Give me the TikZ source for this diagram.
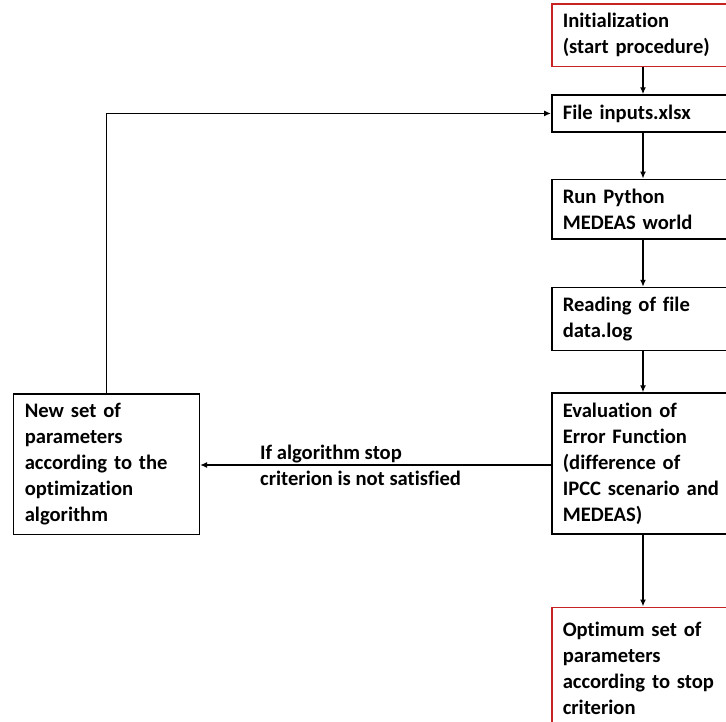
\documentclass[tikz,border=0pt]{standalone}
\usepackage{fontspec}
\setmainfont{Carlito}[Ligatures=NoCommon]
\usetikzlibrary{positioning,arrows.meta}
\definecolor{redline}{RGB}{200,35,35}

\begin{document}
\begin{tikzpicture}[x=1pt,y=-1pt]
\useasboundingbox (0,0) rectangle (726,722);
\tikzset{
  stepbox/.style={rectangle, draw=black, line width=1.6pt, align=left,
    text width=175pt, inner xsep=11pt, inner ysep=9.5pt,
    font=\fontsize{20.6}{26}\selectfont\bfseries},
  redbox/.style={stepbox, draw=redline},
  flow/.style={-{Latex[length=7pt,width=6pt]}, line width=1.6pt}
}

% Initialization
\node[redbox, anchor=north west] (init) at (551,3) {
  Initialization\\(start procedure)
};

% File inputs
\node[stepbox, below=27pt of init.south west, anchor=north west] (inputs) {File inputs.xlsx};

% Run Python
\node[stepbox, below=46pt of inputs.south west, anchor=north west] (python) {Run Python\\MEDEAS world};

% Reading of data
\node[stepbox, below=47pt of python.south west, anchor=north west] (reading) {Reading of file\\data.log};

% Error evaluation
\node[stepbox, below=41pt of reading.south west, anchor=north west] (error) {
  Evaluation of\\Error Function\\(difference of\\IPCC scenario and\\MEDEAS)
};

% Optimum (runs past the lower edge)
\node[redbox, below=72pt of error.south west, anchor=north west,
      minimum height=122pt] (optimum) {
  Optimum set of\\parameters\\according to stop\\criterion
};

% New parameters
\node[stepbox, anchor=north west, text width=163pt, inner xsep=11.5pt] (newset) at (12.5,393) {
  New set of\\parameters\\according to the\\optimization\\algorithm
};

% Condition label
\node[anchor=west, align=left, inner sep=0pt,
      font=\fontsize{20.6}{26}\selectfont\bfseries] (cond) at (260,465) {
  If algorithm stop\\criterion is not satisfied
};

% Arrows
\coordinate (col) at (643,0);
\draw[flow] (init.south -| col) -- (inputs.north -| col);
\draw[flow] (inputs.south -| col) -- (python.north -| col);
\draw[flow] (python.south -| col) -- (reading.north -| col);
\draw[flow] (reading.south -| col) -- (error.north -| col);
\draw[flow] (error.south -| col) -- (optimum.north -| col);
\draw[flow] (error.west |- 0,465) -- (newset.east |- 0,465);
\draw[flow] (newset.north) |- (inputs.west);

\end{tikzpicture}
\end{document}
